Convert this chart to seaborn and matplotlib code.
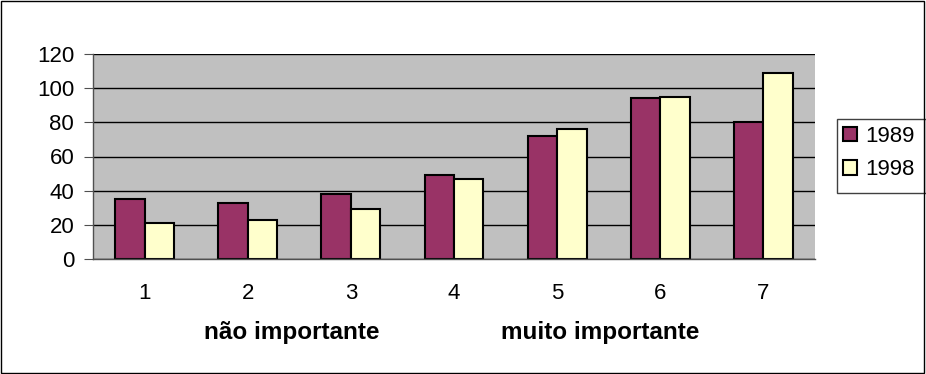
import pandas as pd
import matplotlib.pyplot as plt
import matplotlib.transforms as mtransforms
from matplotlib.patches import Rectangle
import seaborn as sns

categories = ['1', '2', '3', '4', '5', '6', '7']
v1989 = [35, 33, 38, 49, 72, 94, 80]
v1998 = [21, 23, 29, 47, 76, 95, 109]
series = ['1989', '1998']
yticks = [0, 20, 40, 60, 80, 100, 120]

df = pd.DataFrame({
    'cat': categories * 2,
    'ano': [series[0]] * 7 + [series[1]] * 7,
    'valor': v1989 + v1998,
})

sns.set_style('white')
plt.rcParams['font.family'] = ['Liberation Sans', 'DejaVu Sans']
plt.rcParams['font.size'] = 16
plt.rcParams['text.color'] = 'black'
plt.rcParams['xtick.labelcolor'] = 'black'
plt.rcParams['ytick.labelcolor'] = 'black'

W, H = 926, 374
fig = plt.figure(figsize=(9.26, 3.74), dpi=100)
ax = fig.add_axes([93 / W, 1 - 259 / H, (815 - 93) / W, (259 - 54) / H])
ax.set_facecolor('#c0c0c0')

sns.barplot(data=df, x='cat', y='valor', hue='ano', ax=ax,
            palette={'1989': '#993366', '1998': '#ffffcc'},
            width=0.57, edgecolor='black', linewidth=1.5, saturation=1,
            legend=False)

ax.set_ylim(0, 120)
ax.set_yticks(yticks)
ax.set_xlim(-0.5, 6.5)
ax.yaxis.grid(True, color='black', linewidth=1)
ax.set_axisbelow(True)
for s in ['top', 'right']:
    ax.spines[s].set_visible(False)
for s in ['left', 'bottom']:
    ax.spines[s].set_color('#505050')
    ax.spines[s].set_linewidth(1)
ax.tick_params(axis='x', which='major', length=0, pad=17, labelcolor='black')
ax.set_xticks([i - 0.5 for i in range(8)], minor=True)
ax.tick_params(axis='x', which='minor', length=4.5, color='#505050', direction='out')
ax.tick_params(axis='y', length=6.5, color='#505050', direction='out', left=True,
               pad=7, labelcolor='black')
ax.set_xlabel('')
ax.set_ylabel('')

trans = mtransforms.blended_transform_factory(ax.transData, fig.transFigure)
ax.text(1.43, 1 - 333 / H, 'não importante', transform=trans, color='black',
        ha='center', va='center', fontweight='bold', fontsize=17.5)
ax.text(4.42, 1 - 333 / H, 'muito importante', transform=trans, color='black',
        ha='center', va='center', fontweight='bold', fontsize=17.5)

# legend frame reaching the right border, entries inside
fig.patches.append(Rectangle((837 / W, 1 - 193 / H), (926 - 837) / W, (193 - 119) / H,
                             transform=fig.transFigure, fill=False,
                             edgecolor='#404040', linewidth=1))
handles = [Rectangle((0, 0), 1, 1, facecolor='#993366', edgecolor='black', linewidth=1.5),
           Rectangle((0, 0), 1, 1, facecolor='#ffffcc', edgecolor='black', linewidth=1.5)]
leg = fig.legend(handles, series, loc='upper left',
                 bbox_to_anchor=(843 / W, 1 - 126 / H),
                 frameon=False, handlelength=0.62, handleheight=0.62, handletextpad=0.4,
                 borderpad=0, labelspacing=0.55, borderaxespad=0)
for t in leg.get_texts():
    t.set_color('black')

fig.patches.append(Rectangle((0.001, 0.002), 0.997, 0.996, transform=fig.transFigure,
                             fill=False, edgecolor='black', linewidth=1))

plt.savefig('out.png', dpi=100)
